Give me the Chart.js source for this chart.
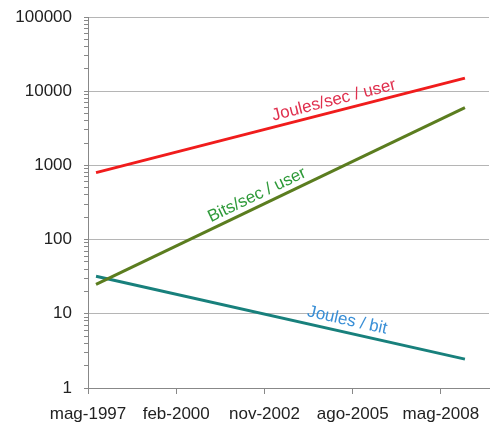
<!DOCTYPE html>
<html>
<head>
<meta charset="utf-8">
<script src="https://cdn.jsdelivr.net/npm/chart.js@4/dist/chart.umd.min.js"></script>
<style>
  body { margin: 0; background: #fff; }
  #wrap { width: 491px; height: 423px; }
</style>
</head>
<body>
<div id="wrap"><canvas id="chart"></canvas></div>
<script>
// months counted from jan-1997
const xTickMonths = [4, 37, 70, 103, 136];
const xTickLabels = ["mag-1997", "feb-2000", "nov-2002", "ago-2005", "mag-2008"];

const seriesMonths = [7, 145];
const joulesSecUser = [800, 15000];
const bitsSecUser = [25, 6000];
const joulesBit = [32, 2.45];

const seriesNames = ["Joules/sec / user", "Bits/sec / user", "Joules / bit"];
const lineColors = ["#f01c1c", "#5b7d1f", "#18807c"];
const textColors = ["#e0304e", "#2f9a3a", "#3a8fd6"];
// where each line label sits (month) and how far above the line (px)
const labelMonths = [97, 69, 100];
const labelOffsets = [11, 11, 12];

const FONT = "'Liberation Sans', Arial, sans-serif";

function toPoints(values) {
  return values.map((v, i) => ({ x: seriesMonths[i], y: v }));
}

// draws the rotated labels along each line
const lineLabels = {
  id: "lineLabels",
  afterDatasetsDraw(chart) {
    const ctx = chart.ctx;
    chart.data.datasets.forEach((ds, i) => {
      const pts = chart.getDatasetMeta(i).data;
      const a = pts[0], b = pts[pts.length - 1];
      const angle = Math.atan2(b.y - a.y, b.x - a.x);
      const px = chart.scales.x.getPixelForValue(labelMonths[i]);
      const py = a.y + (b.y - a.y) * (px - a.x) / (b.x - a.x);
      ctx.save();
      ctx.translate(px, py);
      ctx.rotate(angle);
      ctx.font = "17px " + FONT;
      ctx.fillStyle = textColors[i];
      ctx.textAlign = "center";
      ctx.textBaseline = "middle";
      ctx.fillText(seriesNames[i], 0, -labelOffsets[i]);
      ctx.restore();
    });
  },
};

function isDecade(v) {
  const l = Math.log10(v);
  return Math.abs(l - Math.round(l)) < 1e-9;
}

new Chart(document.getElementById("chart"), {
  type: "line",
  data: {
    datasets: [
      { label: seriesNames[0], data: toPoints(joulesSecUser), borderColor: lineColors[0] },
      { label: seriesNames[1], data: toPoints(bitsSecUser), borderColor: lineColors[1] },
      { label: seriesNames[2], data: toPoints(joulesBit), borderColor: lineColors[2] },
    ],
  },
  options: {
    responsive: true,
    maintainAspectRatio: false,
    animation: false,
    layout: { padding: { top: 17, right: 2, left: 0, bottom: 0 } },
    elements: {
      line: { borderWidth: 3, tension: 0 },
      point: { radius: 0 },
    },
    scales: {
      x: {
        type: "linear",
        min: 4,
        max: 154,
        afterBuildTicks: (scale) => {
          scale.ticks = xTickMonths.map((v) => ({ value: v }));
        },
        afterFit: (scale) => {
          scale.height = 35;
          scale.paddingLeft = 0;
          scale.paddingRight = 0;
        },
        ticks: {
          autoSkip: false,
          maxRotation: 0,
          padding: 10,
          color: "#222",
          font: { family: FONT, size: 17 },
          callback: (v) => xTickLabels[xTickMonths.indexOf(v)],
        },
        grid: {
          drawOnChartArea: false,
          tickLength: 6,
          color: "#888",
        },
        border: { color: "#888" },
      },
      y: {
        type: "logarithmic",
        min: 1,
        max: 100000,
        afterBuildTicks: (scale) => {
          const t = [];
          for (let d = 0; d < 5; d++) {
            for (let m = 1; m < 10; m++) t.push({ value: m * Math.pow(10, d) });
          }
          t.push({ value: 100000 });
          scale.ticks = t;
        },
        afterFit: (scale) => {
          scale.width = 88;
          scale.paddingTop = 0;
          scale.paddingBottom = 0;
        },
        ticks: {
          autoSkip: false,
          padding: 12,
          color: "#222",
          font: { family: FONT, size: 17 },
          callback: (v) => (isDecade(v) ? String(Math.round(v)) : ""),
        },
        grid: {
          tickLength: 4,
          color: (c) => (c.tick && isDecade(c.tick.value) ? "#b5b5b5" : "rgba(0,0,0,0)"),
          tickColor: "#888",
        },
        border: { color: "#888" },
      },
    },
    plugins: {
      legend: { display: false },
      tooltip: { enabled: false },
    },
  },
  plugins: [lineLabels],
});
</script>
</body>
</html>
